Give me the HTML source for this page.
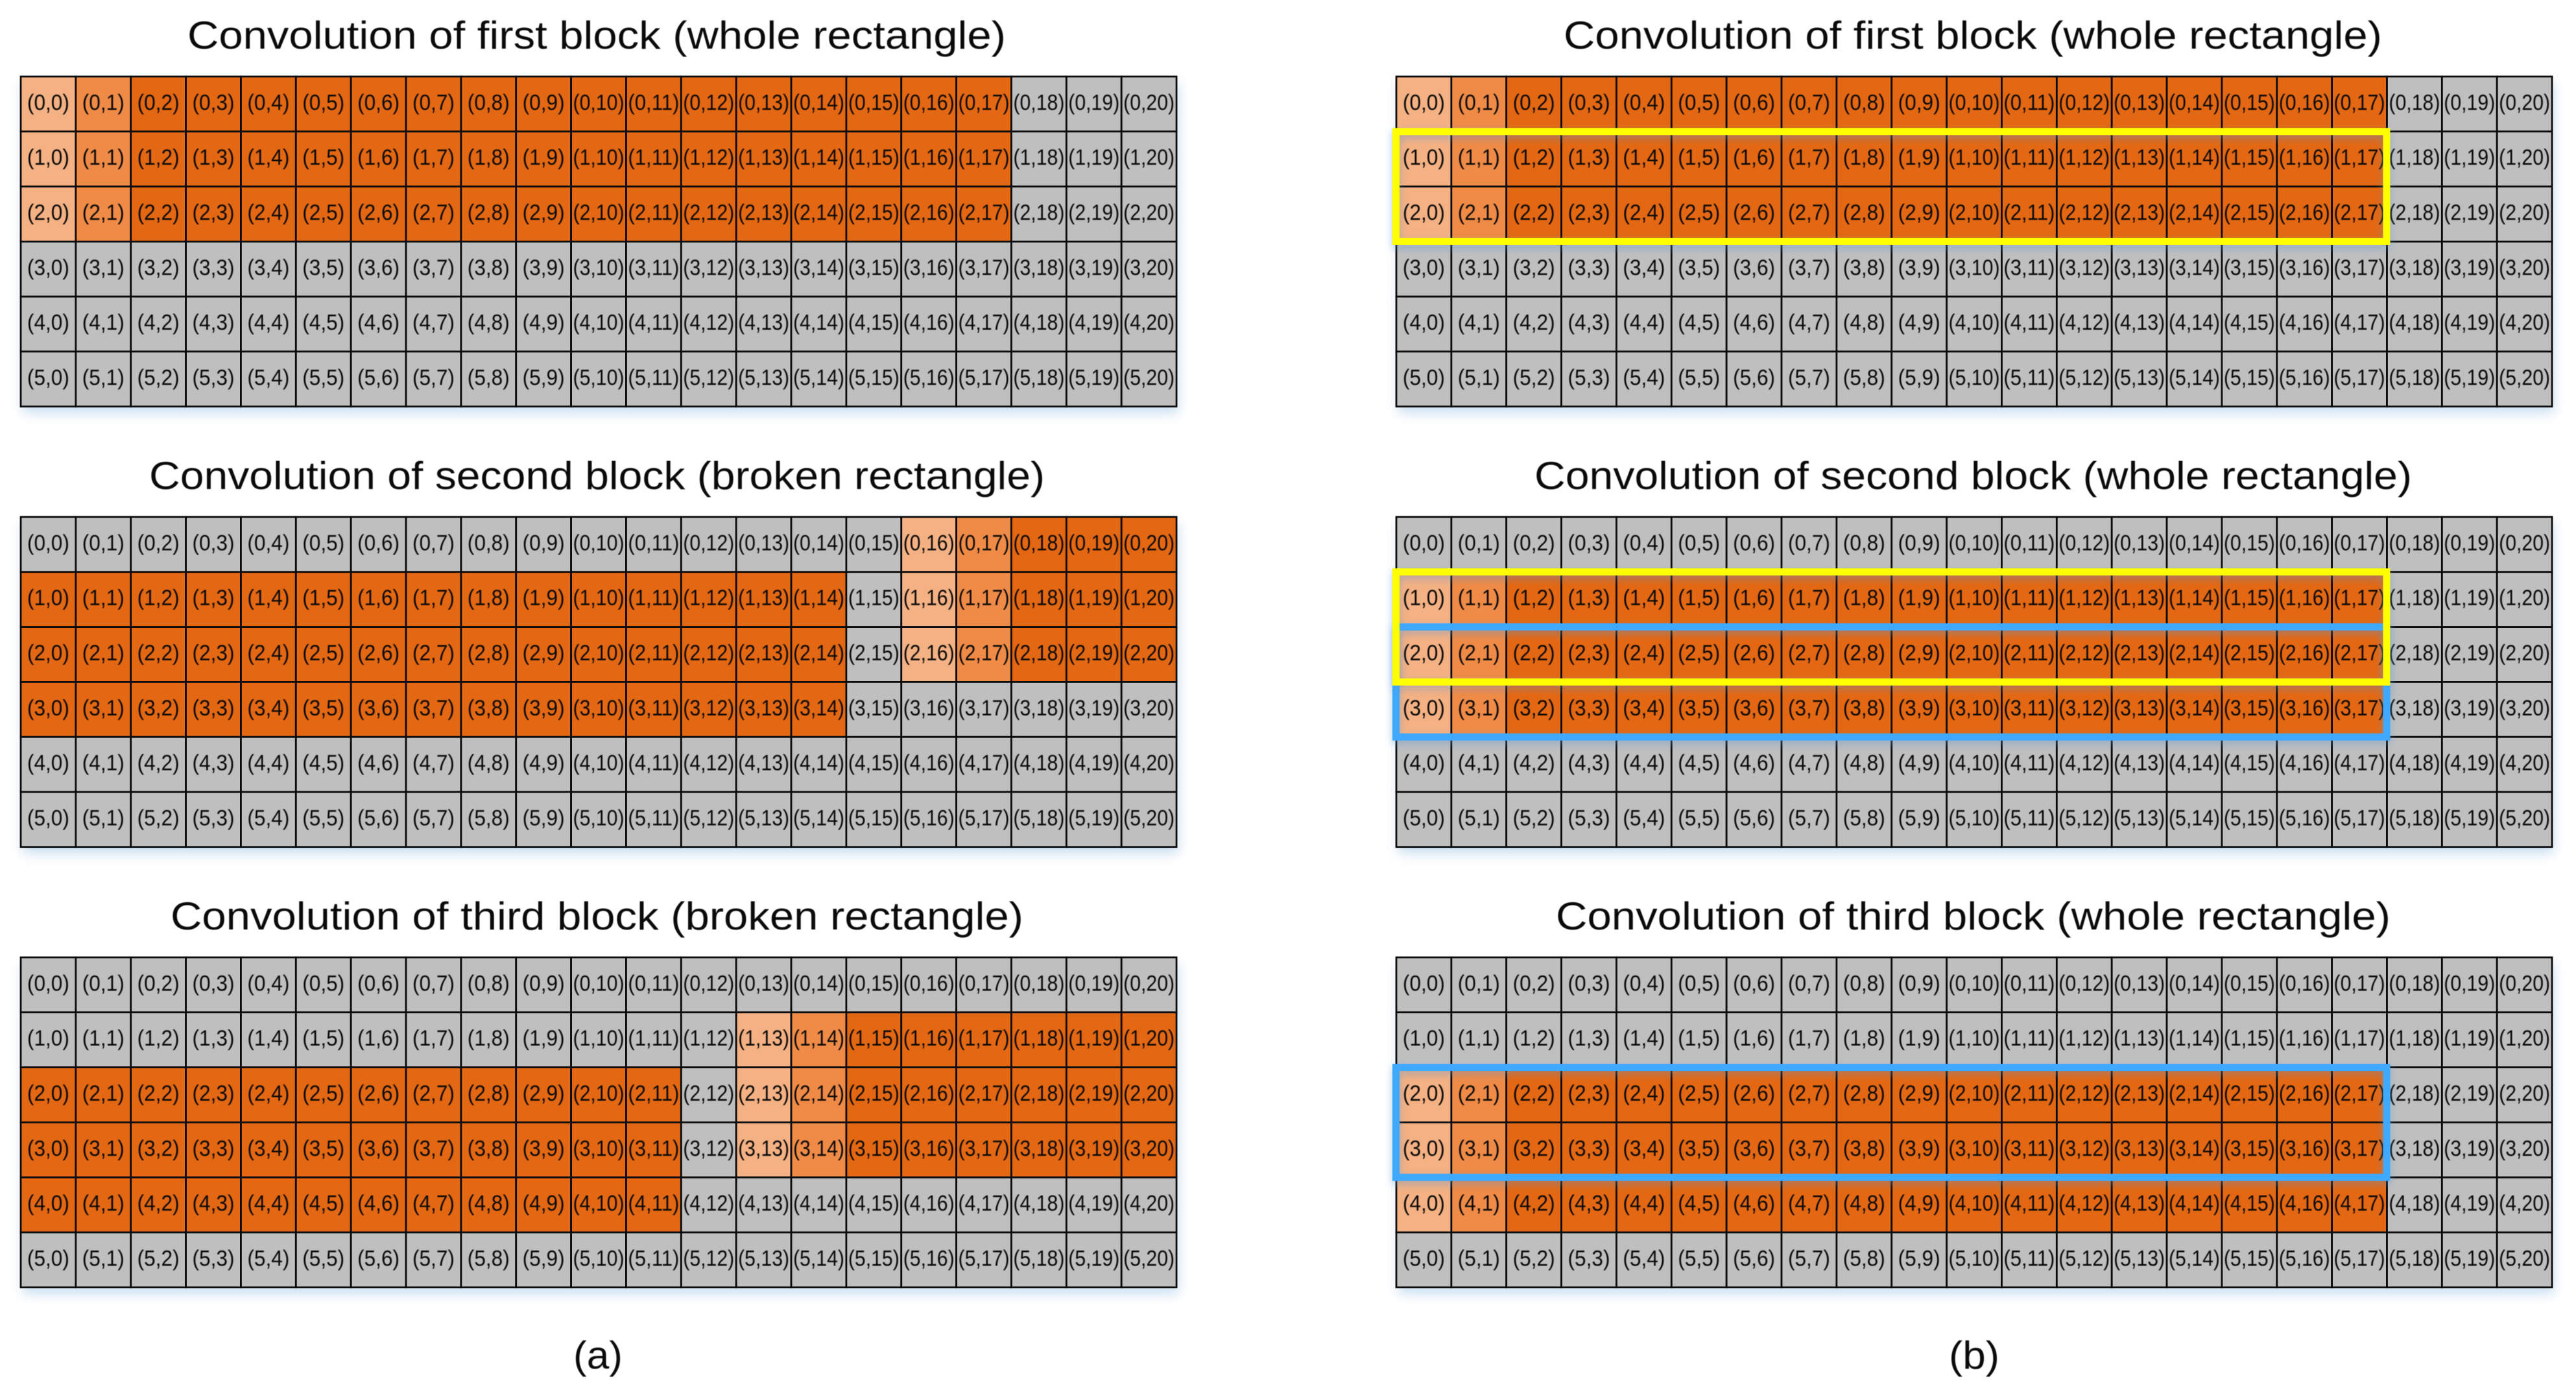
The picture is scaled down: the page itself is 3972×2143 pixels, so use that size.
<!DOCTYPE html>
<html lang="en">
<head>
<meta charset="utf-8">
<title>Convolution of blocks</title>
<style>
  html, body { margin: 0; padding: 0; background: #fff; }
  svg { display: block; }
  .title { font-family: "Liberation Sans", sans-serif; font-size: 60px; fill: #0a0a0a; }
  .cell-label { font-family: "Liberation Sans", sans-serif; font-size: 34px; fill: #0a0a0a; text-anchor: middle; }
  .labels { filter: blur(0.45px); }
  .titles { filter: blur(0.5px); }
  .panel-shadow { filter: drop-shadow(3px 10px 9px rgba(91,155,213,0.32)); }
  .highlight { filter: drop-shadow(0 5px 6px rgba(90,150,210,0.45)); }
</style>
</head>
<body>
<svg id="chart" xmlns="http://www.w3.org/2000/svg" width="3972" height="2143" viewBox="0 0 3972 2143">
  <rect x="0" y="0" width="3972" height="2143" fill="#ffffff"/>
  <g id="panels"></g>
  <g class="titles">
    <text class="title" x="289" y="75" textLength="1262" lengthAdjust="spacingAndGlyphs">Convolution of first block (whole rectangle)</text>
    <text class="title" x="230" y="754" textLength="1381" lengthAdjust="spacingAndGlyphs">Convolution of second block (broken rectangle)</text>
    <text class="title" x="263" y="1433" textLength="1315" lengthAdjust="spacingAndGlyphs">Convolution of third block (broken rectangle)</text>
    <text class="title" x="2411" y="75" textLength="1262" lengthAdjust="spacingAndGlyphs">Convolution of first block (whole rectangle)</text>
    <text class="title" x="2366" y="754" textLength="1353" lengthAdjust="spacingAndGlyphs">Convolution of second block (whole rectangle)</text>
    <text class="title" x="2399" y="1433" textLength="1287" lengthAdjust="spacingAndGlyphs">Convolution of third block (whole rectangle)</text>
    <text class="title" x="884" y="2110" textLength="76" lengthAdjust="spacingAndGlyphs">(a)</text>
    <text class="title" x="3005" y="2110" textLength="78" lengthAdjust="spacingAndGlyphs">(b)</text>
  </g>
</svg>
<script>
// Heat level of each cell: 0 = gray, 1 = light orange, 2 = mid orange, 3 = dark orange
var heatFirstA = [
  "123333333333333333000",
  "123333333333333333000",
  "123333333333333333000",
  "000000000000000000000",
  "000000000000000000000",
  "000000000000000000000"
];
var heatSecondA = [
  "000000000000000012333",
  "333333333333333012333",
  "333333333333333012333",
  "333333333333333000000",
  "000000000000000000000",
  "000000000000000000000"
];
var heatThirdA = [
  "000000000000000000000",
  "000000000000012333333",
  "333333333333012333333",
  "333333333333012333333",
  "333333333333000000000",
  "000000000000000000000"
];
var heatFirstB = [
  "123333333333333333000",
  "123333333333333333000",
  "123333333333333333000",
  "000000000000000000000",
  "000000000000000000000",
  "000000000000000000000"
];
var heatSecondB = [
  "000000000000000000000",
  "123333333333333333000",
  "123333333333333333000",
  "123333333333333333000",
  "000000000000000000000",
  "000000000000000000000"
];
var heatThirdB = [
  "000000000000000000000",
  "000000000000000000000",
  "123333333333333333000",
  "123333333333333333000",
  "123333333333333333000",
  "000000000000000000000"
];

var cellLabels = [
  ["(0,0)","(0,1)","(0,2)","(0,3)","(0,4)","(0,5)","(0,6)","(0,7)","(0,8)","(0,9)","(0,10)","(0,11)","(0,12)","(0,13)","(0,14)","(0,15)","(0,16)","(0,17)","(0,18)","(0,19)","(0,20)"],
  ["(1,0)","(1,1)","(1,2)","(1,3)","(1,4)","(1,5)","(1,6)","(1,7)","(1,8)","(1,9)","(1,10)","(1,11)","(1,12)","(1,13)","(1,14)","(1,15)","(1,16)","(1,17)","(1,18)","(1,19)","(1,20)"],
  ["(2,0)","(2,1)","(2,2)","(2,3)","(2,4)","(2,5)","(2,6)","(2,7)","(2,8)","(2,9)","(2,10)","(2,11)","(2,12)","(2,13)","(2,14)","(2,15)","(2,16)","(2,17)","(2,18)","(2,19)","(2,20)"],
  ["(3,0)","(3,1)","(3,2)","(3,3)","(3,4)","(3,5)","(3,6)","(3,7)","(3,8)","(3,9)","(3,10)","(3,11)","(3,12)","(3,13)","(3,14)","(3,15)","(3,16)","(3,17)","(3,18)","(3,19)","(3,20)"],
  ["(4,0)","(4,1)","(4,2)","(4,3)","(4,4)","(4,5)","(4,6)","(4,7)","(4,8)","(4,9)","(4,10)","(4,11)","(4,12)","(4,13)","(4,14)","(4,15)","(4,16)","(4,17)","(4,18)","(4,19)","(4,20)"],
  ["(5,0)","(5,1)","(5,2)","(5,3)","(5,4)","(5,5)","(5,6)","(5,7)","(5,8)","(5,9)","(5,10)","(5,11)","(5,12)","(5,13)","(5,14)","(5,15)","(5,16)","(5,17)","(5,18)","(5,19)","(5,20)"]
];

// Highlighted block spans, as [first row line, last row line, first column line, last column line]
var yellowFirstB = [1, 3, 0, 18];
var yellowSecondB = [1, 3, 0, 18];
var blueSecondB = [2, 4, 0, 18];
var blueThirdB = [2, 4, 0, 18];

var NS = "http://www.w3.org/2000/svg";
var CELL_W = 84.86;
var CELL_H = 84.8;
var LEFT_A = 32;
var LEFT_B = 2153;
var TOP_1 = 118;
var TOP_2 = 797;
var TOP_3 = 1476;
var heatColor = { "0": "#BFBFBF", "1": "#F4B183", "2": "#EF8B47", "3": "#E46813" };
var root = document.getElementById("panels");

function xAxis(left, col) { return left + col * CELL_W; }
function yAxis(top, row) { return top + row * CELL_H; }

function make(tag, parent) {
  var el = document.createElementNS(NS, tag);
  parent.appendChild(el);
  return el;
}

function drawPanel(name, left, top, heat) {
  var g = make("g", root);
  
  

  var base = make("rect", g);
  
  
  base.setAttribute("class", "panel-shadow");
  base.setAttribute("x", xAxis(left, 0));
  base.setAttribute("y", yAxis(top, 0));
  base.setAttribute("width", xAxis(left, heat[0].length) - xAxis(left, 0));
  base.setAttribute("height", yAxis(top, heat.length) - yAxis(top, 0));
  base.setAttribute("fill", "#BFBFBF");

  var labels = document.createElementNS(NS, "g");
  labels.setAttribute("class", "labels");
  
  

  for (var r = 0; r < heat.length; r++) {
    for (var c = 0; c < heat[r].length; c++) {
      var cell = make("rect", g);
      
      
      cell.setAttribute("x", xAxis(left, c));
      cell.setAttribute("y", yAxis(top, r));
      cell.setAttribute("width", CELL_W);
      cell.setAttribute("height", CELL_H);
      cell.setAttribute("fill", heatColor[heat[r].charAt(c)]);
      cell.setAttribute("stroke", "#0c0c0c");
      cell.setAttribute("stroke-width", "2.8");

      var label = cellLabels[r][c];
      var t = make("text", labels);
      
      
      t.setAttribute("class", "cell-label");
      t.setAttribute("x", xAxis(left, c + 0.5));
      t.setAttribute("y", yAxis(top, r + 0.5) + 9);
      t.setAttribute("textLength", label.length > 5 ? 79 : 65);
      t.setAttribute("lengthAdjust", "spacingAndGlyphs");
      t.textContent = label;
    }
  }
  g.appendChild(labels);
}

function drawHighlight(name, left, top, span, color) {
  var rect = make("rect", root);
  
  
  rect.setAttribute("class", "highlight");
  rect.setAttribute("x", xAxis(left, span[2]) - 0.5);
  rect.setAttribute("y", yAxis(top, span[0]));
  rect.setAttribute("width", xAxis(left, span[3]) - xAxis(left, span[2]));
  rect.setAttribute("height", yAxis(top, span[1]) - yAxis(top, span[0]));
  rect.setAttribute("fill", "none");
  rect.setAttribute("stroke", color);
  rect.setAttribute("stroke-width", "11");
}

drawPanel("grid-a-first", LEFT_A, TOP_1, heatFirstA);
drawPanel("grid-a-second", LEFT_A, TOP_2, heatSecondA);
drawPanel("grid-a-third", LEFT_A, TOP_3, heatThirdA);
drawPanel("grid-b-first", LEFT_B, TOP_1, heatFirstB);
drawPanel("grid-b-second", LEFT_B, TOP_2, heatSecondB);
drawPanel("grid-b-third", LEFT_B, TOP_3, heatThirdB);

drawHighlight("yellow-rectangle-first", LEFT_B, TOP_1, yellowFirstB, "#FFFF00");
drawHighlight("blue-rectangle-second", LEFT_B, TOP_2, blueSecondB, "#3FA9FF");
drawHighlight("yellow-rectangle-second", LEFT_B, TOP_2, yellowSecondB, "#FFFF00");
drawHighlight("blue-rectangle-third", LEFT_B, TOP_3, blueThirdB, "#3FA9FF");
</script>
</body>
</html>
